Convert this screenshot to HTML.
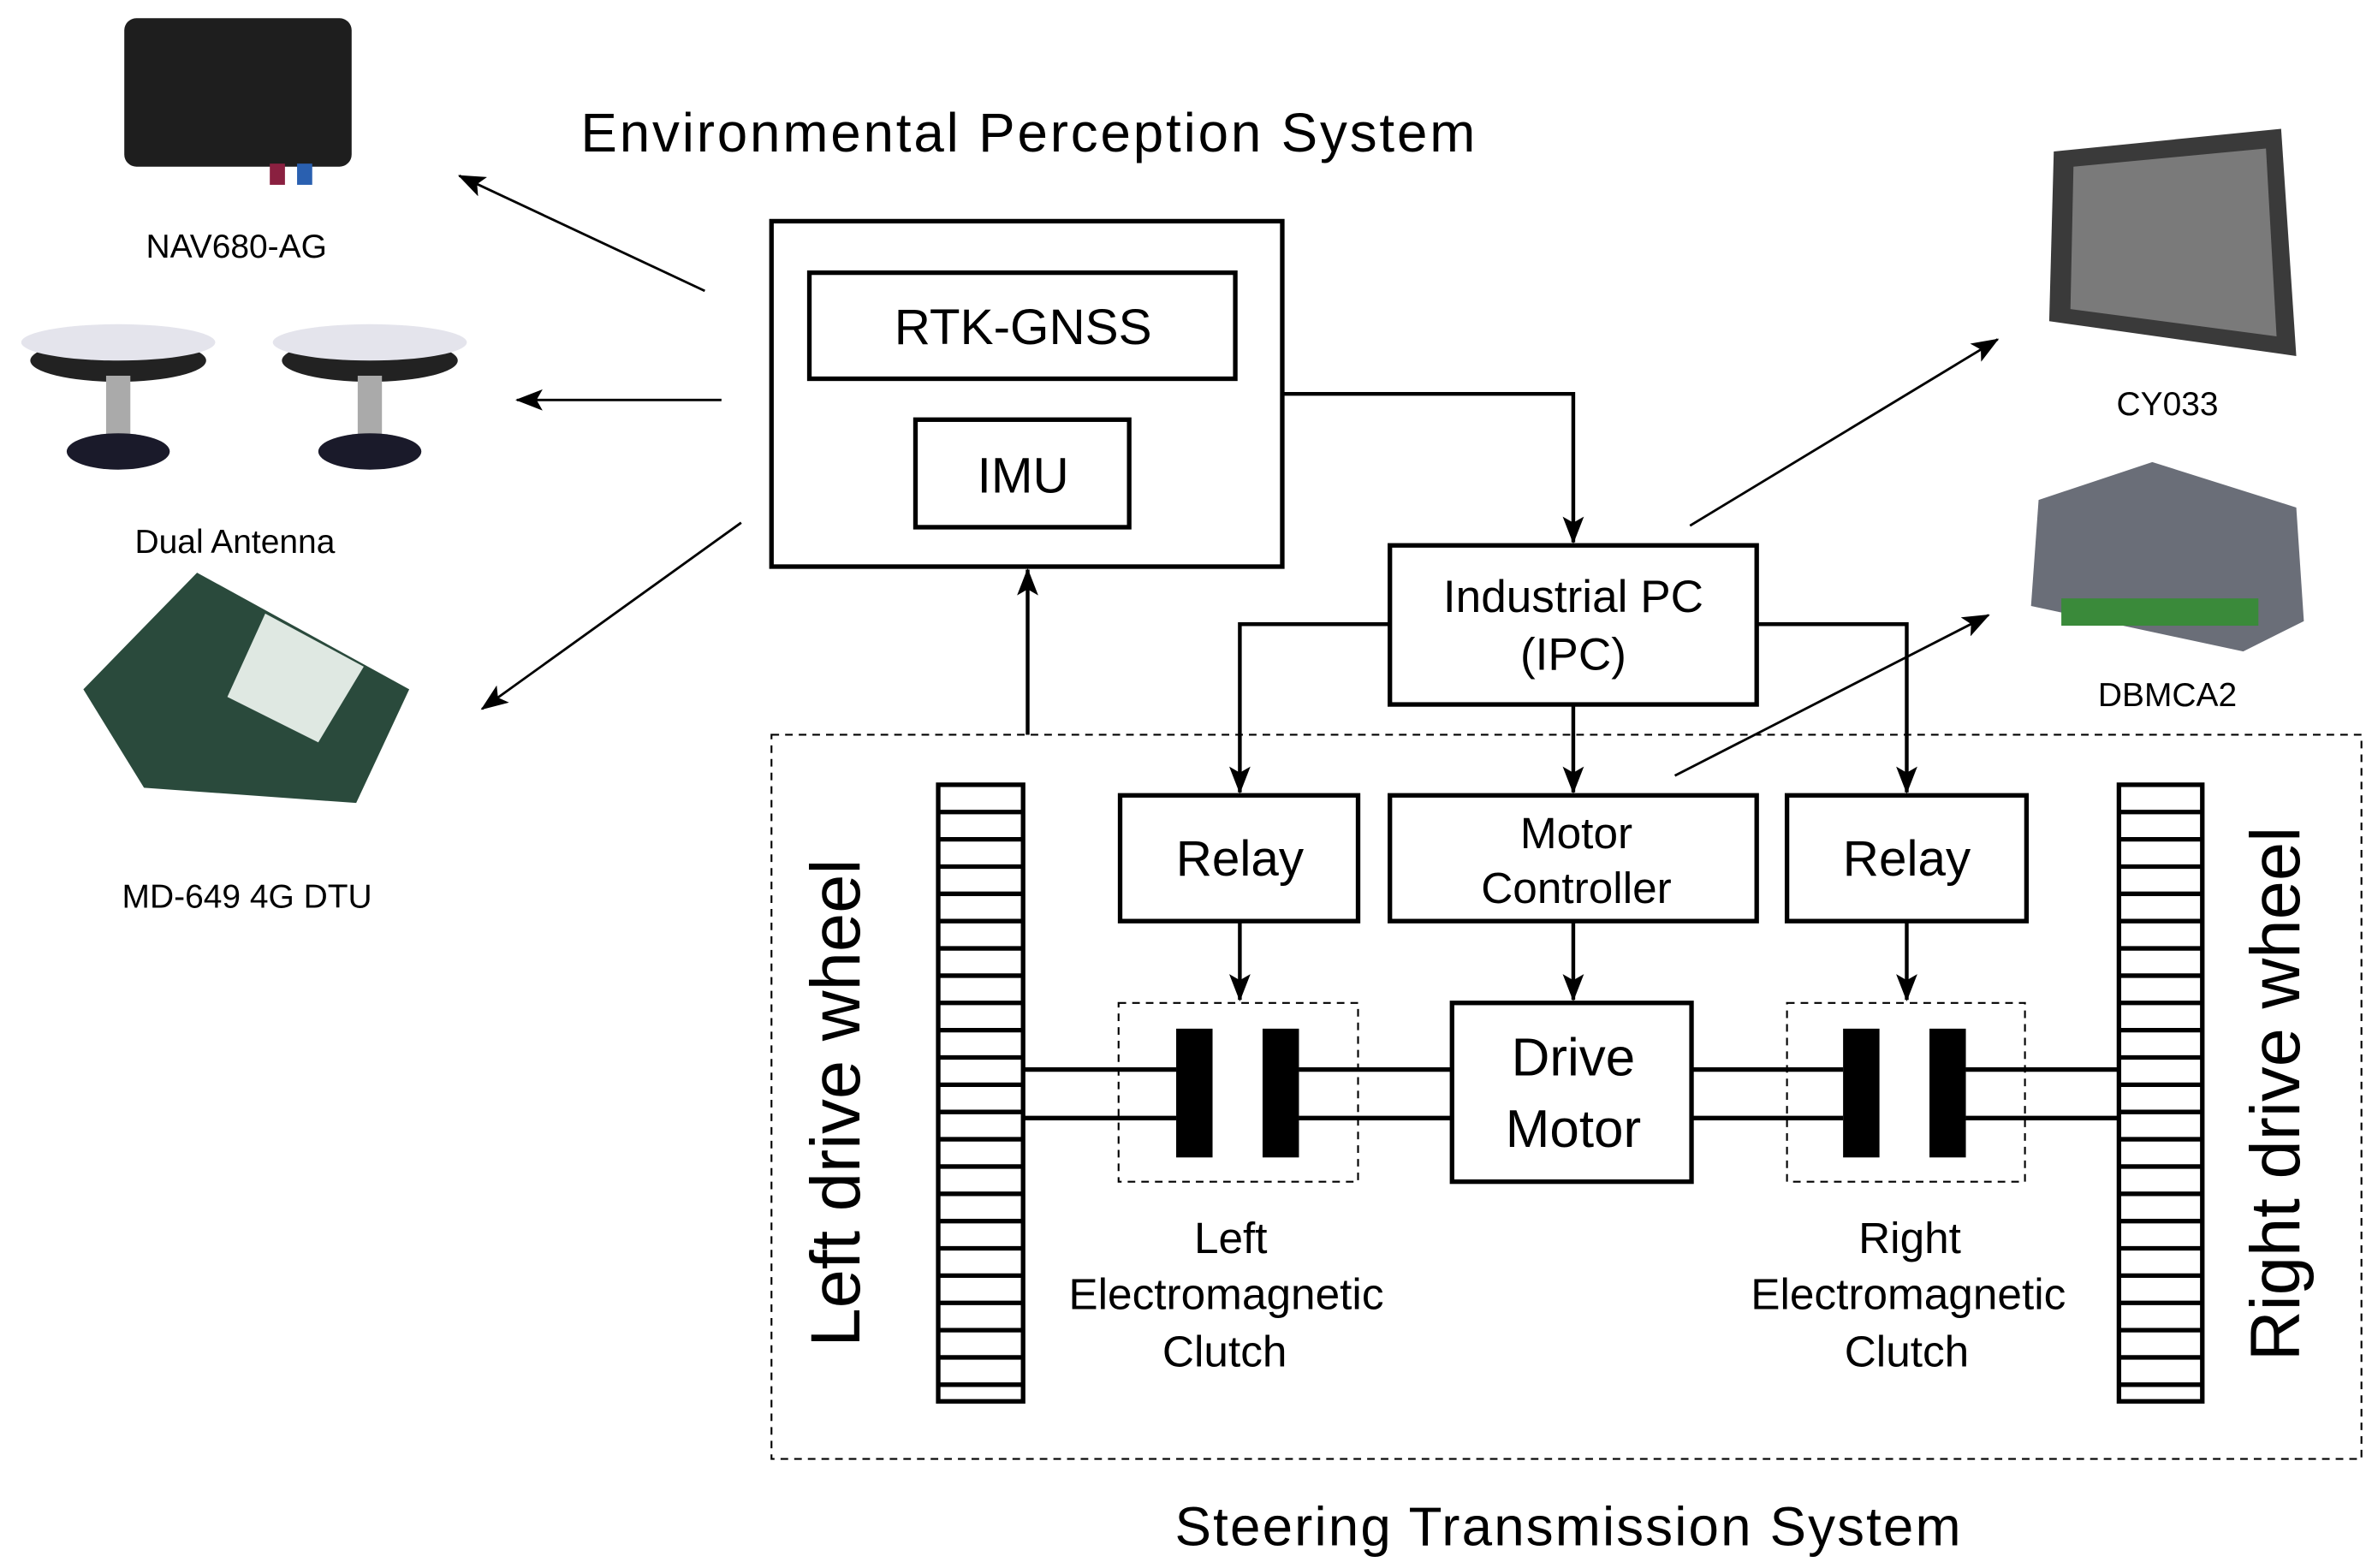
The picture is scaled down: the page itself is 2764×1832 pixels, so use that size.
<!DOCTYPE html>
<html><head><meta charset="utf-8"><style>html,body{margin:0;padding:0;background:#fff}svg{display:block}</style></head>
<body>
<svg width="2764" height="1832" viewBox="0 0 1561 1035" preserveAspectRatio="none" xmlns="http://www.w3.org/2000/svg" font-family="Liberation Sans, Arial, sans-serif">
<defs>
<marker id="ah2" markerWidth="18" markerHeight="14" refX="17" refY="7" orient="auto" markerUnits="userSpaceOnUse"><path d="M0,0 L18,7 L0,14 L4,7 z" fill="#000"/></marker>
</defs>
<rect width="1561" height="1035" fill="#fff"/>
<g fill="none" stroke="#000" stroke-width="3">
<rect x="509" y="146" width="337" height="228"/>
<rect x="534" y="180" width="281" height="70"/>
<rect x="604" y="277" width="141" height="71"/>
<rect x="917" y="360" width="242" height="105"/>
<rect x="739" y="525" width="157" height="83"/>
<rect x="917" y="525" width="242" height="83"/>
<rect x="1179" y="525" width="158" height="83"/>
<rect x="958" y="662" width="158" height="118"/>
</g>
<g fill="none" stroke="#000" stroke-width="1.2" stroke-dasharray="5,4">
<rect x="509" y="485" width="1049" height="478"/>
<rect x="738" y="662" width="158" height="118"/>
<rect x="1179" y="662" width="157" height="118"/>
</g>
<g fill="none" stroke="#000" stroke-width="2.5">
<polyline points="846,260 1038,260 1038,358" marker-end="url(#ah2)"/>
<polyline points="917,412 818,412 818,523" marker-end="url(#ah2)"/>
<polyline points="1159,412 1258,412 1258,523" marker-end="url(#ah2)"/>
<line x1="1038" y1="465" x2="1038" y2="523" marker-end="url(#ah2)"/>
<line x1="678" y1="485" x2="678" y2="376" marker-end="url(#ah2)"/>
<line x1="818" y1="608" x2="818" y2="660" marker-end="url(#ah2)"/>
<line x1="1038" y1="608" x2="1038" y2="660" marker-end="url(#ah2)"/>
<line x1="1258" y1="608" x2="1258" y2="660" marker-end="url(#ah2)"/>
</g>
<g fill="none" stroke="#000" stroke-width="1.6">
<line x1="465" y1="192" x2="303" y2="116" marker-end="url(#ah2)"/>
<line x1="476" y1="264" x2="341" y2="264" marker-end="url(#ah2)"/>
<line x1="489" y1="345" x2="318" y2="468" marker-end="url(#ah2)"/>
<line x1="1115" y1="347" x2="1318" y2="224" marker-end="url(#ah2)"/>
<line x1="1105" y1="512" x2="1312" y2="406" marker-end="url(#ah2)"/>
</g>
<g stroke="#000" stroke-width="3">
<line x1="675" y1="706" x2="776" y2="706"/><line x1="675" y1="738" x2="776" y2="738"/>
<line x1="857" y1="706" x2="958" y2="706"/><line x1="857" y1="738" x2="958" y2="738"/>
<line x1="1116" y1="706" x2="1216" y2="706"/><line x1="1116" y1="738" x2="1216" y2="738"/>
<line x1="1297" y1="706" x2="1398" y2="706"/><line x1="1297" y1="738" x2="1398" y2="738"/>
</g>
<g fill="#000">
<rect x="776" y="679" width="24" height="85"/><rect x="833" y="679" width="24" height="85"/>
<rect x="1216" y="679" width="24" height="85"/><rect x="1273" y="679" width="24" height="85"/>
</g>
<g fill="none" stroke="#000" stroke-width="3">
<rect x="619" y="518" width="56" height="407"/>
<rect x="1398" y="518" width="55" height="407"/>
<path d="M619,536H675M619,554H675M619,572H675M619,590H675M619,608H675M619,626H675M619,644H675M619,662H675M619,680H675M619,698H675M619,716H675M619,734H675M619,752H675M619,770H675M619,788H675M619,806H675M619,824H675M619,842H675M619,860H675M619,878H675M619,896H675M619,914H675"/>
<path d="M1398,536H1453M1398,554H1453M1398,572H1453M1398,590H1453M1398,608H1453M1398,626H1453M1398,644H1453M1398,662H1453M1398,680H1453M1398,698H1453M1398,716H1453M1398,734H1453M1398,752H1453M1398,770H1453M1398,788H1453M1398,806H1453M1398,824H1453M1398,842H1453M1398,860H1453M1398,878H1453M1398,896H1453M1398,914H1453"/>
</g>
<g fill="#000" text-anchor="middle">
<text x="679" y="100" font-size="36" letter-spacing="1.6">Environmental Perception System</text>
<text x="675" y="227" font-size="33">RTK-GNSS</text>
<text x="675" y="325" font-size="33">IMU</text>
<text x="1038" y="404" font-size="30">Industrial PC</text>
<text x="1038" y="442" font-size="30">(IPC)</text>
<text x="818" y="578" font-size="33">Relay</text>
<text x="1258" y="578" font-size="33">Relay</text>
<text x="1040" y="560" font-size="29">Motor</text>
<text x="1040" y="596" font-size="29">Controller</text>
<text x="1038" y="710" font-size="35">Drive</text>
<text x="1038" y="757" font-size="35">Motor</text>
<text x="812" y="827" font-size="29">Left</text>
<text x="809" y="864" font-size="29">Electromagnetic</text>
<text x="808" y="902" font-size="29">Clutch</text>
<text x="1260" y="827" font-size="29">Right</text>
<text x="1259" y="864" font-size="29">Electromagnetic</text>
<text x="1258" y="902" font-size="29">Clutch</text>
<text x="1035" y="1020" font-size="36" letter-spacing="1.2">Steering Transmission System</text>
<text transform="translate(567,728) rotate(-90)" font-size="46">Left drive wheel</text>
<text transform="translate(1517,722) rotate(-90)" font-size="46">Right drive wheel</text>
<text x="156" y="170" font-size="22">NAV680-AG</text>
<text x="155" y="365" font-size="22">Dual Antenna</text>
<text x="163" y="599" font-size="22">MD-649 4G DTU</text>
<text x="1430" y="274" font-size="22">CY033</text>
<text x="1430" y="466" font-size="22">DBMCA2</text>
</g>
<rect x="82" y="12" width="150" height="98" rx="8" fill="#1e1e1e"/>
<rect x="178" y="108" width="10" height="14" fill="#8a2040"/><rect x="196" y="108" width="10" height="14" fill="#2a60b0"/>
<g fill="#222"><ellipse cx="78" cy="238" rx="58" ry="14"/><ellipse cx="244" cy="238" rx="58" ry="14"/></g>
<g fill="#e4e4ec"><ellipse cx="78" cy="226" rx="64" ry="12"/><ellipse cx="244" cy="226" rx="64" ry="12"/></g>
<rect x="70" y="248" width="16" height="42" fill="#aaa"/><rect x="236" y="248" width="16" height="42" fill="#aaa"/>
<ellipse cx="78" cy="298" rx="34" ry="12" fill="#1a1a2a"/><ellipse cx="244" cy="298" rx="34" ry="12" fill="#1a1a2a"/>
<polygon points="55,455 130,378 270,455 235,530 95,520" fill="#2a4a3c"/>
<polygon points="175,405 240,440 210,490 150,460" fill="#dfe8e2"/>
<polygon points="1355,100 1505,85 1515,235 1352,212" fill="#3a3a3a"/>
<polygon points="1368,110 1495,98 1502,222 1366,204" fill="#7a7a7a"/>
<polygon points="1345,330 1420,305 1515,335 1520,410 1480,430 1340,400" fill="#6a6e78"/>
<rect x="1360" y="395" width="130" height="18" fill="#3a8a3a"/>
</svg>
</body></html>
